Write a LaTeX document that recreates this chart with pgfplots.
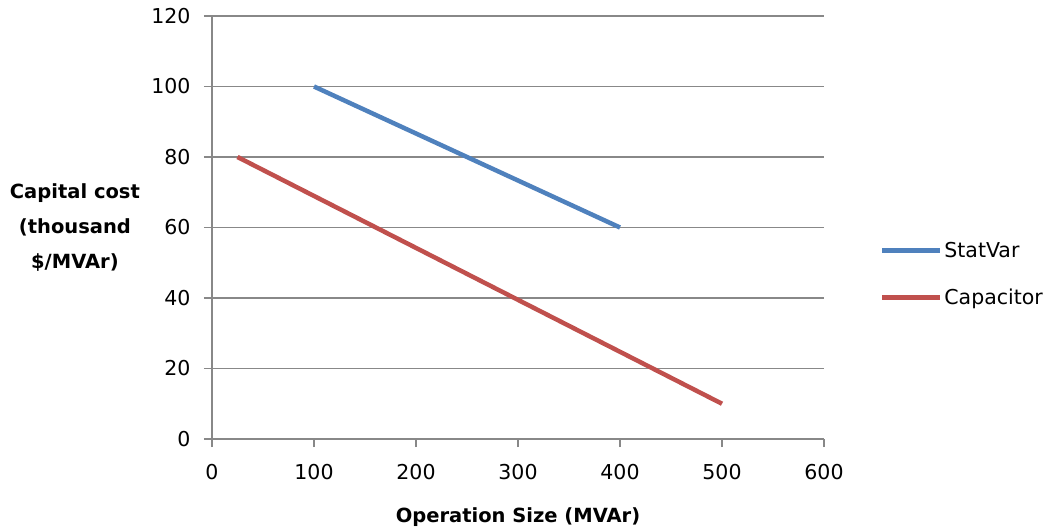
\documentclass[border=0pt]{standalone}
\usepackage{pgfplots}
\pgfplotsset{compat=1.18}
\usepackage{fontspec}
\setmainfont{DejaVu Sans}
\definecolor{sblue}{HTML}{4F81BD}
\definecolor{sred}{HTML}{C0504D}
\definecolor{gridc}{HTML}{888888}
\begin{document}
\begin{tikzpicture}[font=\fontsize{20.5bp}{24bp}\selectfont]
\useasboundingbox (0,0) rectangle (1051bp,531bp);
\begin{axis}[
  at={(212bp,92bp)}, anchor=south west,
  scale only axis, width=612bp, height=423bp,
  xmin=0, xmax=600, ymin=0, ymax=120,
  xtick={0,100,...,600}, ytick={0,20,...,120},
  axis lines*=left,
  axis line style={draw=gridc, line width=1.6bp},
  tick style={draw=gridc, line width=1.6bp},
  tick align=outside, major tick length=8bp,
  ymajorgrids, grid style={draw=gridc, line width=1.6bp},
  /pgf/number format/assume math mode=true,
  ticklabel style={font=\fontsize{20.5bp}{24bp}\selectfont, text=black},
  yticklabel style={xshift=-10bp},
  xticklabel style={yshift=-14bp},
  xlabel={\bfseries Operation Size (MVAr)},
  xlabel style={at={(axis description cs:0.5,0)}, anchor=center, yshift=-78bp, font=\fontsize{19.5bp}{24bp}\selectfont\bfseries},
  ylabel={Capital cost\\(thousand\\\$/MVAr)},
  ylabel style={rotate=-90, at={(axis description cs:-0.224,0.5)}, anchor=center, align=center, font=\fontsize{19.5bp}{35bp}\selectfont\bfseries},
  legend style={at={(axis description cs:1.091,0.39)}, anchor=west, draw=none, fill=none, font=\fontsize{20.5bp}{24bp}\selectfont, row sep=26bp, inner sep=0pt},
  legend cell align=left,
  legend image code/.code={\draw[#1] (0bp,0bp) -- (58bp,0bp);},
]
\addplot[sblue, line width=4.5bp] coordinates {(100,100) (400,60)};
\addlegendentry{StatVar}
\addplot[sred, line width=4.5bp] coordinates {(25,80) (500,10)};
\addlegendentry{Capacitor}
\end{axis}
\end{tikzpicture}
\end{document}
